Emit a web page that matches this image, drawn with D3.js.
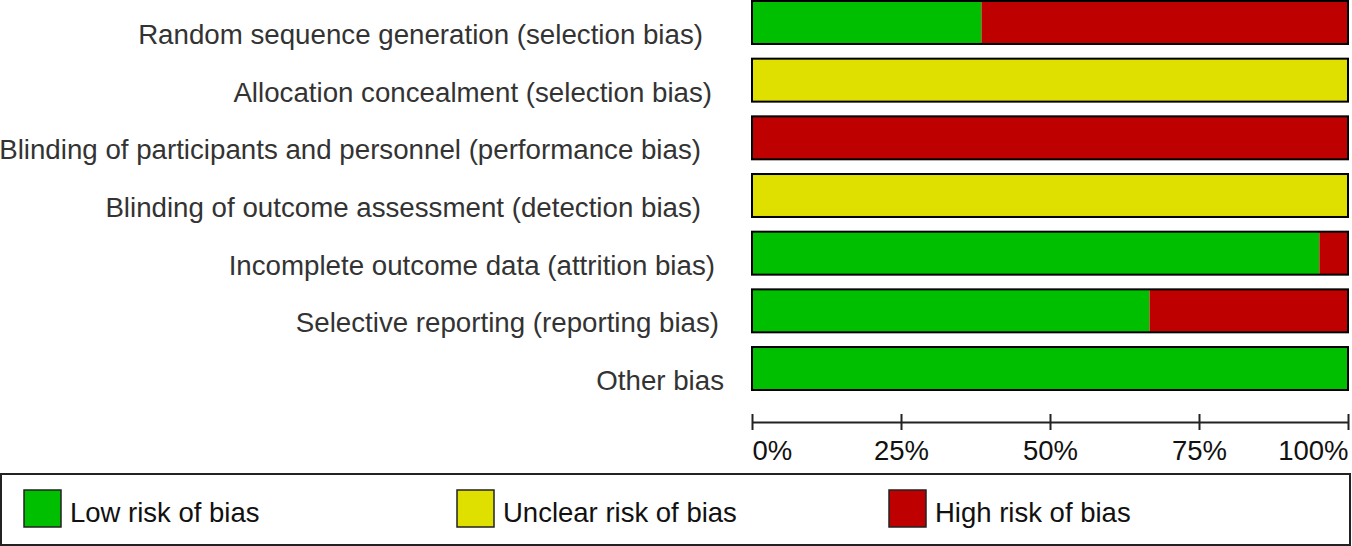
<!DOCTYPE html>
<html><head><meta charset="utf-8">
<script src="https://cdn.jsdelivr.net/npm/d3@7"></script>
<style>body{margin:0;background:#fff;} svg{display:block;}</style>
</head><body>
<svg id="chart" width="1352" height="546"></svg>
<script>
const categories = [
  "Random sequence generation (selection bias)",
  "Allocation concealment (selection bias)",
  "Blinding of participants and personnel (performance bias)",
  "Blinding of outcome assessment (detection bias)",
  "Incomplete outcome data (attrition bias)",
  "Selective reporting (reporting bias)",
  "Other bias"
];
const lowRisk =     [38.5, 0,   0,   0,   95.2, 66.7, 100];
const unclearRisk = [0,    100, 0,   100, 0,    0,    0];
const highRisk =    [61.5, 0,   100, 0,   4.8,  33.3, 0];
const tickValues = [0, 25, 50, 75, 100];
const tickLabels = ["0%", "25%", "50%", "75%", "100%"];
const legendLabels = ["Low risk of bias", "Unclear risk of bias", "High risk of bias"];
const colors = ["#00BF00", "#DFDF00", "#BF0000"];
// label right-edge offsets (layout only)
const labelShift = [-8, 1, -10, -10, 4, 8, 13];

const svg = d3.select("#chart");
const font = "Liberation Sans, Arial, sans-serif";
const x = d3.scaleLinear().domain([0, 100]).range([752, 1348]);
const y = d3.scaleBand().domain(categories).range([1, 390]).paddingInner(0.255).paddingOuter(0);

const series = [lowRisk, unclearRisk, highRisk];
categories.forEach((c, i) => {
  let acc = 0;
  series.forEach((s, k) => {
    const v = s[i];
    if (v > 0) {
      svg.append("rect").attr("x", x(acc)).attr("y", y(c))
        .attr("width", x(acc + v) - x(acc)).attr("height", y.bandwidth())
        .attr("fill", colors[k]);
    }
    acc += v;
  });
  svg.append("rect").attr("x", x(0)).attr("y", y(c))
    .attr("width", x(100) - x(0)).attr("height", y.bandwidth())
    .attr("fill", "none").attr("stroke", "#000").attr("stroke-width", 2);
  svg.append("text").attr("x", 711 + labelShift[i]).attr("y", y(c) + y.bandwidth() / 2 + 21.5)
    .attr("text-anchor", "end").attr("font-family", font).attr("font-size", 27.7)
    .attr("fill", "#333").text(c);
});

// axis
const axisY = 422;
const axis = d3.axisBottom(x).tickValues(tickValues).tickSize(0).tickFormat((d, i) => tickLabels[i]);
const ag = svg.append("g").attr("transform", `translate(0,${axisY})`).call(axis);
ag.select(".domain").attr("stroke", "#222").attr("stroke-width", 2);
ag.selectAll(".tick line").attr("y1", -8).attr("y2", 8).attr("stroke", "#222").attr("stroke-width", 2);
ag.selectAll(".tick text").attr("font-family", font).attr("font-size", 27.5).attr("fill", "#111")
  .attr("dy", 0).attr("y", 37.5)
  .attr("text-anchor", (d, i) => i === 0 ? "start" : (i === tickValues.length - 1 ? "end" : "middle"));

// legend
svg.append("rect").attr("x", 1).attr("y", 474).attr("width", 1349).attr("height", 71)
  .attr("fill", "none").attr("stroke", "#222").attr("stroke-width", 2);
const legX = [24, 457, 889];
legendLabels.forEach((l, k) => {
  svg.append("rect").attr("x", legX[k]).attr("y", 490).attr("width", 37).attr("height", 37)
    .attr("fill", colors[k]).attr("stroke", "#222").attr("stroke-width", 1.5);
  svg.append("text").attr("x", legX[k] + 46).attr("y", 522)
    .attr("font-family", font).attr("font-size", 27.5).attr("fill", "#111").text(l);
});
</script>
</body></html>
